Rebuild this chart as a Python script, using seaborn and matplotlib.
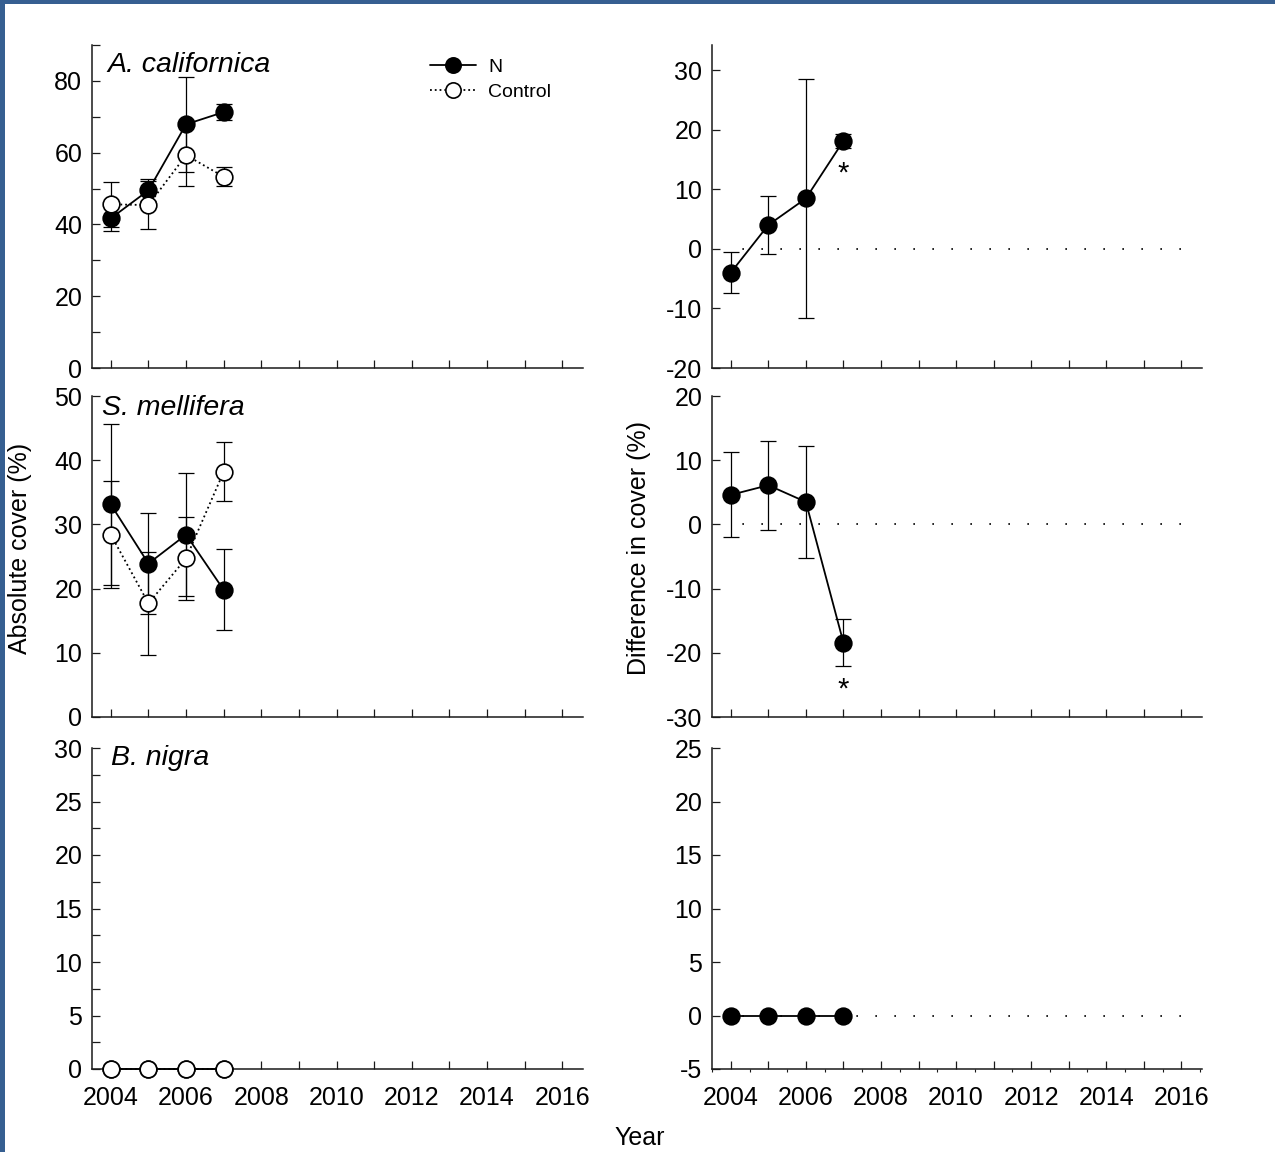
import numpy as np
import pandas as pd
import seaborn as sns
import matplotlib
matplotlib.use("Agg")
import matplotlib.pyplot as plt
from matplotlib.ticker import FixedLocator, NullLocator
from matplotlib.patches import Rectangle

# ---------------- data ----------------
years = [2004, 2005, 2006, 2007]
species = ["A. californica", "S. mellifera", "B. nigra"]
series_labels = ["N", "Control"]
year_ticks = list(range(2004, 2017))
year_labels = [str(y) if y % 2 == 0 else "" for y in year_ticks]

ac_n_mean = [41.7, 49.5, 67.9, 71.3]
ac_n_se = [3.4, 3.1, 13.2, 2.2]
ac_c_mean = [45.6, 45.4, 59.3, 53.3]
ac_c_se = [6.3, 6.7, 8.6, 2.7]

sm_n_mean = [33.1, 23.9, 28.4, 19.8]
sm_n_se = [12.6, 7.9, 9.6, 6.3]
sm_c_mean = [28.4, 17.7, 24.7, 38.2]
sm_c_se = [8.3, 8.0, 6.5, 4.6]

bn_n_mean = [0.0, 0.0, 0.0, 0.0]
bn_n_se = [0.0, 0.0, 0.0, 0.0]
bn_c_mean = [0.0, 0.0, 0.0, 0.0]
bn_c_se = [0.0, 0.0, 0.0, 0.0]

ac_diff_mean = [-4.0, 4.0, 8.45, 18.1]
ac_diff_se = [3.4, 4.9, 20.0, 1.15]
sm_diff_mean = [4.6, 6.1, 3.5, -18.4]
sm_diff_se = [6.6, 6.9, 8.7, 3.6]
bn_diff_mean = [0.0, 0.0, 0.0, 0.0]
bn_diff_se = [0.0, 0.0, 0.0, 0.0]

# significance markers: (year, y position)
ac_sig = (2007, 12.6)
sm_sig = (2007, -25.8)

# ---------------- style ----------------
sns.set_theme(style="ticks")
plt.rcParams["font.family"] = ["Liberation Sans", "DejaVu Sans"]
INK = "black"
plt.rcParams.update({
    "axes.edgecolor": "#1a1a1a",
    "axes.linewidth": 1.1,
    "xtick.color": "#1a1a1a",
    "ytick.color": "#1a1a1a",
    "xtick.labelcolor": "black",
    "ytick.labelcolor": "black",
    "text.color": "black",
})

W, H = 1275, 1152
fig = plt.figure(figsize=(W / 100, H / 100), dpi=100)
fig.patch.set_facecolor("white")

def px_axes(x0, y0, x1, y1):
    return fig.add_axes([x0 / W, 1 - y1 / H, (x1 - x0) / W, (y1 - y0) / H])

left_x = (92, 583)
right_x = (712, 1202)
rows_y = [(45, 368), (396, 717), (748, 1069)]

MS = 12
CAP = 6
TICKFS = 18

def style_axes(ax, ylim, yticks, yminor=None, bottom_labels=False, xminor=False):
    ax.set_xlim(2003.5, 2016.55)
    ax.set_ylim(*ylim)
    ax.xaxis.set_major_locator(FixedLocator(year_ticks))
    if bottom_labels:
        ax.set_xticklabels(year_labels)
    else:
        ax.set_xticklabels([])
    ax.yaxis.set_major_locator(FixedLocator(yticks))
    ax.set_yticklabels([f"{t:g}" for t in yticks])
    if yminor is not None:
        ax.yaxis.set_minor_locator(FixedLocator(yminor))
    else:
        ax.yaxis.set_minor_locator(NullLocator())
    if xminor:
        ax.xaxis.set_minor_locator(FixedLocator([y + 0.5 for y in range(2003, 2017)]))
        ax.tick_params(axis="x", which="minor", direction="out", length=2.5, width=0.8)
    else:
        ax.xaxis.set_minor_locator(NullLocator())
    ax.tick_params(axis="both", which="major", direction="in", length=5.5, width=0.9,
                   labelsize=TICKFS)
    ax.tick_params(axis="y", which="minor", direction="in", length=5.5, width=0.9)
    ax.tick_params(axis="y", which="major", pad=7)
    ax.tick_params(axis="x", which="major", pad=12)
    sns.despine(ax=ax)
    ax.set_xlabel("")
    ax.set_ylabel("")
    ax.set_facecolor("white")

def draw_series(ax, mean, se, filled, ls, label, z):
    ax.errorbar(years, mean, yerr=se, fmt="none", ecolor=INK, elinewidth=0.9,
                capsize=CAP, capthick=0.9, zorder=z, clip_on=False)
    sns.lineplot(x=years, y=mean, ax=ax, color=INK, linewidth=1.3, linestyle=ls,
                 marker="o", markersize=MS,
                 markerfacecolor=INK if filled else "white",
                 markeredgecolor=INK, markeredgewidth=1.2,
                 label=label, legend=False, zorder=z + 1, clip_on=False,
                 errorbar=None)

def zero_line(ax):
    # drawn from 2016 back to 2004 so that the dot pattern ends on 2016
    ax.plot([2016, 2004], [0, 0], color=INK, linestyle=(0, (1, 10.4)), linewidth=1.2,
            zorder=1)

# ---------- left column ----------
abs_data = [
    (ac_n_mean, ac_n_se, ac_c_mean, ac_c_se, (0, 90), [0, 20, 40, 60, 80], [10, 30, 50, 70, 90]),
    (sm_n_mean, sm_n_se, sm_c_mean, sm_c_se, (0, 50), [0, 10, 20, 30, 40, 50], None),
    (bn_n_mean, bn_n_se, bn_c_mean, bn_c_se, (0, 30), [0, 5, 10, 15, 20, 25, 30],
     [2.5, 7.5, 12.5, 17.5, 22.5, 27.5]),
]
label_pos = [(0.031, 0.938), (0.020, 0.963), (0.039, 0.969)]
for i, (nm, ns, cm, cs, ylim, yt, ymin) in enumerate(abs_data):
    ax = px_axes(left_x[0], rows_y[i][0], left_x[1], rows_y[i][1])
    style_axes(ax, ylim, yt, ymin, bottom_labels=(i == 2))
    draw_series(ax, nm, ns, True, "-", series_labels[0], 3)
    draw_series(ax, cm, cs, False, ":", series_labels[1], 5)
    ax.text(label_pos[i][0], label_pos[i][1], species[i], transform=ax.transAxes,
            fontsize=20.5, style="italic", ha="left", va="center")
    if i == 0:
        leg = ax.legend(loc="upper left", bbox_to_anchor=(0.68, 0.97), frameon=False,
                        fontsize=14, handlelength=2.4, handletextpad=0.6,
                        labelspacing=0.35, borderpad=0.2, borderaxespad=0)
        for h in leg.legend_handles:
            h.set_markersize(11)

# ---------- right column ----------
diff_data = [
    (ac_diff_mean, ac_diff_se, (-20, 34.2), [-20, -10, 0, 10, 20, 30], ac_sig),
    (sm_diff_mean, sm_diff_se, (-30, 20), [-30, -20, -10, 0, 10, 20], sm_sig),
    (bn_diff_mean, bn_diff_se, (-5, 25), [-5, 0, 5, 10, 15, 20, 25], None),
]
for i, (dm, ds, ylim, yt, sig) in enumerate(diff_data):
    ax = px_axes(right_x[0], rows_y[i][0], right_x[1], rows_y[i][1])
    style_axes(ax, ylim, yt, None, bottom_labels=(i == 2), xminor=(i == 2))
    zero_line(ax)
    draw_series(ax, dm, ds, True, "-", series_labels[0], 3)
    if sig is not None:
        ax.text(sig[0], sig[1], "*", fontsize=21, ha="center", va="center")

# ---------- shared labels ----------
fig.text(20 / W, 1 - 548 / H, "Absolute cover (%)", rotation=90, ha="center", va="center",
         fontsize=18)
fig.text(639 / W, 1 - 548 / H, "Difference in cover (%)", rotation=90, ha="center",
         va="center", fontsize=18)
fig.text(640 / W, 1 - 1138 / H, "Year", ha="center", va="center", fontsize=18)

# ---------- blue frame ----------
border = "#365F91"
fig.patches.append(Rectangle((0, 0), 5 / W, 1, transform=fig.transFigure,
                             facecolor=border, edgecolor="none", zorder=10))
fig.patches.append(Rectangle((0, 1 - 4 / H), 1, 4 / H, transform=fig.transFigure,
                             facecolor=border, edgecolor="none", zorder=10))

fig.savefig("out.png", dpi=100, facecolor="white")
